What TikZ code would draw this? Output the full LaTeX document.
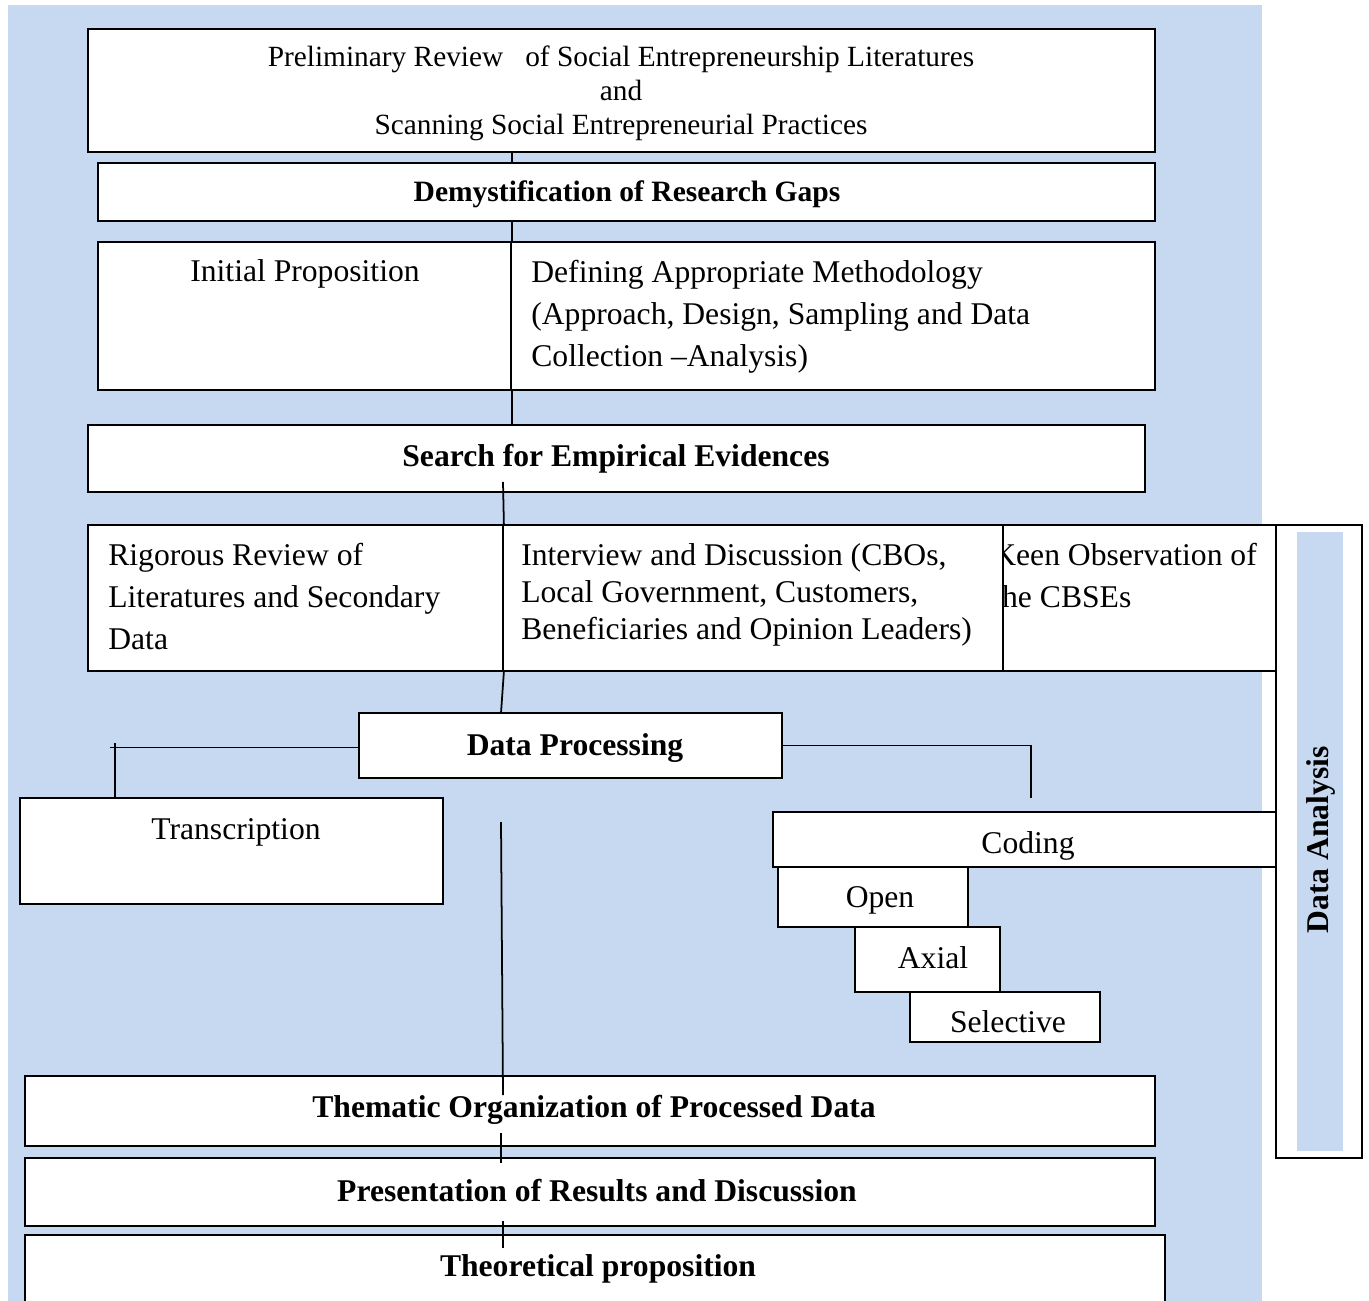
\documentclass[tikz,border=0pt]{standalone}
\usepackage{fontspec}
\setmainfont{Liberation Serif}
\usepackage{xcolor}
\definecolor{panelblue}{RGB}{198,217,240}

\tikzset{
  stage/.style={draw, line width=1pt, fill=white, inner sep=0pt},
  plain/.style={font=\fontsize{18}{24}\selectfont, inner sep=0pt},
  head/.style={font=\fontsize{18}{22}\selectfont\bfseries, inner sep=0pt},
  link/.style={line width=1pt},
}

% box from its left, top, right and bottom edge (pixels)
\newcommand{\stagebox}[6][]{%
  \node[stage, #1,
        minimum width={(#5-#3)*0.02cm},
        minimum height={(#6-#4)*0.02cm}] (#2) at ({(#3+#5)/2}, {(#4+#6)/2}) {};
}

\begin{document}
\begin{tikzpicture}[x=0.02cm, y=-0.02cm]
\useasboundingbox (0,0) rectangle (1369,1301);
\fill[panelblue] (8,5) rectangle (1262,1320);

% review and gaps
\stagebox{prelim}{88}{29}{1155}{152}
\node[plain, font=\fontsize{16.7}{19.4}\selectfont, align=center] (prelimtxt) at (621,93)
  {Preliminary Review\ \ \ of Social Entrepreneurship Literatures\\ and\\ Scanning Social Entrepreneurial Practices};

\stagebox{demyst}{98}{163}{1155}{221}
\node[head, font=\fontsize{16.8}{22}\selectfont\bfseries] (demysttxt) at (627,194) {Demystification of Research Gaps};

\stagebox{ini}{98}{242}{511}{390}
\stagebox{meth}{511}{242}{1155}{390}
\node[plain] (initxt) at (305,274) {Initial Proposition};
\node[plain, align=left, anchor=north west] (methtxt) at (531,260)
  {Defining Appropriate Methodology\\(Approach, Design, Sampling and Data\\Collection –Analysis)};

\stagebox{search}{88}{425}{1145}{492}
\node[head] (searchtxt) at (616,459) {Search for Empirical Evidences};

% evidence sources
\stagebox{keen}{968}{525}{1276}{671}
\node[plain, align=left, anchor=north west] (keentxt) at (993,543) {Keen Observation of\\the CBSEs};
\stagebox{rig}{88}{525}{503}{671}
\node[plain, align=left, anchor=north west] (rigtxt) at (108,543)
  {Rigorous Review of\\Literatures and Secondary\\Data};
\stagebox{inter}{503}{525}{1003}{671}
\node[plain, font=\fontsize{18}{21}\selectfont, align=left, anchor=north west] (intertxt) at (521,543)
  {Interview and Discussion (CBOs,\\Local Government, Customers,\\Beneficiaries and Opinion Leaders)};

\stagebox{anal}{1276}{525}{1362}{1158}
\stagebox[draw=none, fill=panelblue]{analfill}{1297}{532}{1343}{1151}
\node[head, rotate=90] (analtxt) at (1321,840) {Data Analysis};

% processing
\stagebox{dp}{359}{713}{782}{778}
\node[head] (dptxt) at (575,748) {Data Processing};

\stagebox{tr}{20}{798}{443}{904}
\node[plain] (trtxt) at (236,832) {Transcription};

\stagebox{cod}{773}{812}{1276}{867}
\node[plain] (codtxt) at (1028,846) {Coding};
\stagebox{open}{778}{867}{968}{927}
\node[plain] (opentxt) at (880,900) {Open};
\stagebox{axial}{855}{927}{1000}{992}
\node[plain] (axialtxt) at (933,958) {Axial};
\stagebox{sel}{910}{992}{1100}{1042}
\node[plain] (seltxt) at (1008,1022) {Selective};

% results
\stagebox{them}{25}{1076}{1155}{1146}
\node[head] (themtxt) at (594,1110) {Thematic Organization of Processed Data};
\stagebox{pres}{25}{1158}{1155}{1226}
\node[head] (prestxt) at (597,1191) {Presentation of Results and Discussion};
\stagebox{theo}{25}{1235}{1165}{1330}
\node[head] (theotxt) at (598,1269) {Theoretical proposition};

% connectors
\coordinate (searchout) at (503,482);
\coordinate (dpin) at (501,713);
\coordinate (trtick) at (115,743);
\coordinate (trin) at (115,798);
\coordinate (codin) at (1031,798);
\coordinate (midtop) at (501,822);
\coordinate (midbot) at (503,1095);
\coordinate (themout) at (501,1133);
\coordinate (presin) at (501,1163);
\coordinate (presout) at (503,1221);
\coordinate (theoin) at (503,1248);

\draw[link] (prelim.south -| ini.east) -- (demyst.north -| ini.east);
\draw[link] (demyst.south -| ini.east) -- (ini.north east);
\draw[link] (ini.south east) -- (search.north -| ini.south east);
\draw[link] (searchout) -- (rig.north east);
\draw[link] (rig.south east) -- (dpin);
\draw[link] ([yshift=-0.04cm]dp.west) -- ([yshift=-0.04cm]dp.west -| 110,0);
\draw[link] (trtick) -- (trin);
\draw[link] (dp.east) -| (codin);
\draw[link] (midtop) -- (midbot);
\draw[link] (themout) -- (presin);
\draw[link] (presout) -- (theoin);

\end{tikzpicture}
\end{document}
